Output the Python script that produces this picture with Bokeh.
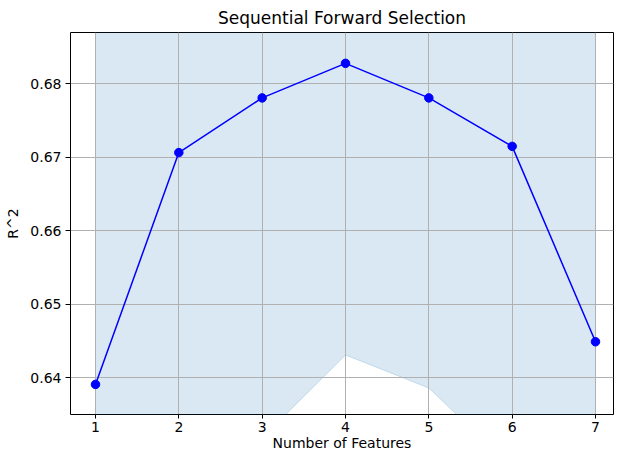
import numpy as np
from bokeh.plotting import figure
from bokeh.models import FixedTicker, Range1d, ColumnDataSource
from bokeh.embed import file_html
from bokeh.resources import INLINE

n_features = [1, 2, 3, 4, 5, 6, 7]
r2_mean = [0.6391, 0.67065, 0.6781, 0.6828, 0.6781, 0.6715, 0.6449]
r2_std = [0.059, 0.050, 0.0463, 0.0397, 0.0395, 0.0437, 0.050]
y_ticks = [0.64, 0.65, 0.66, 0.67, 0.68]

mean = np.array(r2_mean)
std = np.array(r2_std)
src = ColumnDataSource(dict(x=n_features, y=r2_mean, lo=mean - std, hi=mean + std))

FONT = "DejaVu Sans"
p = figure(width=614, height=454, output_backend="svg", toolbar_location=None,
           x_range=Range1d(0.7, 7.216), y_range=Range1d(0.6350, 0.6870),
           min_border_left=70, min_border_right=1, min_border_top=32, min_border_bottom=40,
           title="Sequential Forward Selection")
p.title.align = "center"
p.title.text_font = FONT
p.title.text_font_style = "normal"
p.title.text_font_size = "17px"
p.title.text_color = "black"

p.varea(x="x", y1="lo", y2="hi", source=src, fill_color="#1f77b4", fill_alpha=0.17, level="image")
p.line(x="x", y="lo", source=src, line_color="#1f77b4", line_alpha=0.2, line_width=1, level="image")
p.line(x="x", y="hi", source=src, line_color="#1f77b4", line_alpha=0.2, line_width=1, level="image")
p.line(x="x", y="y", source=src, line_color="#0000ff", line_width=1.5)
p.scatter(x="x", y="y", source=src, size=8.5, fill_color="#0000ff", line_color="#0000ff")

p.xaxis.ticker = FixedTicker(ticks=n_features)
p.yaxis.ticker = FixedTicker(ticks=y_ticks)
p.xaxis.axis_label = "Number of Features"
p.yaxis.axis_label = "R^2"
for ax in (p.xaxis[0], p.yaxis[0]):
    ax.axis_label_text_font = FONT
    ax.axis_label_text_font_style = "normal"
    ax.axis_label_text_font_size = "14px"
    ax.axis_label_text_color = "black"
    ax.major_label_text_font = FONT
    ax.major_label_text_font_size = "14px"
    ax.major_label_text_color = "black"
    ax.axis_line_color = None
    ax.major_tick_line_color = "black"
    ax.major_tick_in = 0
    ax.minor_tick_line_color = None
p.xaxis.major_tick_out = 4
p.xaxis.major_label_standoff = 3
p.xaxis.axis_label_standoff = 0
p.yaxis.major_tick_out = 5
p.yaxis.major_label_standoff = 4
p.yaxis.axis_label_standoff = 6

p.grid.grid_line_color = "#b0b0b0"
p.grid.grid_line_width = 1
p.outline_line_color = "black"
p.outline_line_width = 1
p.outline_line_alpha = 1
p.background_fill_color = "white"
p.border_fill_color = "white"

open("out.html", "w").write(file_html(p, INLINE))
